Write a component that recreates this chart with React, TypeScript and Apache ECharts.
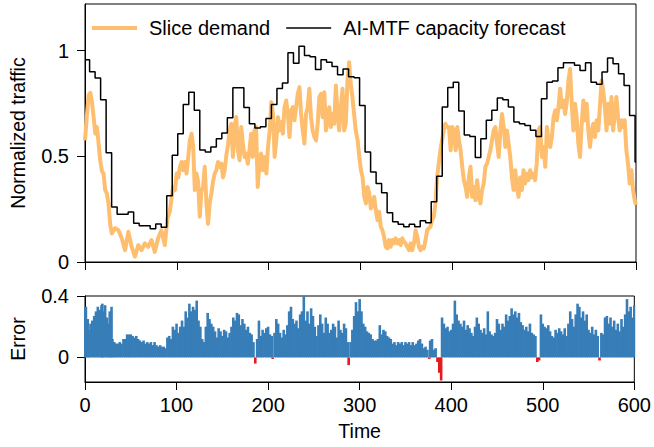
import React, { useEffect, useRef } from "react";
import * as echarts from "echarts";

// Capacity forecast: one value per 6-step block; block k spans [6k-1, 6k+5) clipped to [0, 600]
const BLOCK_LEN = 6;
const CAPACITY = [
  0.956, 0.9, 0.87, 0.767, 0.517, 0.26, 0.226, 0.226, 0.236, 0.183,
  0.171, 0.171, 0.157, 0.18, 0.164, 0.313, 0.505, 0.607, 0.745, 0.803,
  0.717, 0.53, 0.52, 0.544, 0.583, 0.61, 0.682, 0.824, 0.824, 0.73,
  0.654, 0.634, 0.64, 0.678, 0.745, 0.82, 0.846, 0.99, 0.94, 1.02,
  0.976, 0.97, 0.91, 0.956, 0.945, 0.925, 0.885, 0.913, 0.876, 0.871,
  0.74, 0.52, 0.426, 0.371, 0.327, 0.233, 0.19, 0.179, 0.167, 0.179,
  0.167, 0.195, 0.186, 0.285, 0.406, 0.733, 0.825, 0.85, 0.714, 0.6,
  0.594, 0.494, 0.583, 0.67, 0.717, 0.775, 0.767, 0.733, 0.662, 0.654,
  0.646, 0.623, 0.594, 0.772, 0.85, 0.856, 0.918, 0.942, 0.942, 0.93,
  0.906, 0.942, 0.85, 0.84, 0.898, 0.965, 0.937, 0.89, 0.835, 0.693,
  0.473,
];

// Slice demand: [time, normalized traffic]
const DEMAND: [number, number][] = [
  [0, 0.575], [2.2, 0.7], [4, 0.79], [5.8, 0.8], [7.6, 0.756], [9.4, 0.685], [11.2, 0.607], [13, 0.638],
  [14.8, 0.56], [16.6, 0.48], [18.4, 0.43], [20.2, 0.418], [22, 0.34], [23.8, 0.324], [25.6, 0.276],
  [27.4, 0.18], [29.2, 0.135], [32.8, 0.16], [36.4, 0.15], [40, 0.112], [43.6, 0.056], [47.2, 0.143],
  [50.8, 0.072], [54.4, 0.025], [58, 0.08], [61.6, 0.056], [65.2, 0.088], [68.8, 0.072], [72.4, 0.104],
  [76, 0.048], [79.6, 0.112], [83.2, 0.15], [86.9, 0.08], [89.7, 0.206], [92.3, 0.237], [95.9, 0.355],
  [98, 0.34], [99.8, 0.418], [101.6, 0.4], [103.4, 0.45], [105.2, 0.473], [107, 0.434], [108.8, 0.473],
  [110.6, 0.418], [112.4, 0.497], [114.2, 0.575], [116, 0.607], [117.8, 0.544], [119.6, 0.34],
  [121.4, 0.418], [123.2, 0.38], [125, 0.214], [126.8, 0.34], [128.6, 0.355], [130.4, 0.45],
  [132.2, 0.277], [134, 0.18], [135.8, 0.277], [137.6, 0.324], [139.4, 0.38], [141.2, 0.418],
  [143, 0.434], [144.8, 0.473], [146.6, 0.45], [148.5, 0.465], [150.3, 0.4], [152.1, 0.434],
  [153.9, 0.505], [155.7, 0.552], [157.5, 0.622], [159.3, 0.654], [161.1, 0.497], [162.9, 0.638],
  [164.7, 0.685], [166.5, 0.528], [168.3, 0.481], [170.1, 0.638], [171.9, 0.56], [173.7, 0.497],
  [175.5, 0.513], [177.3, 0.465], [179.1, 0.528], [180.9, 0.607], [182.7, 0.497], [184.5, 0.622],
  [186.3, 0.638], [188.1, 0.355], [189.9, 0.465], [191.7, 0.513], [193.5, 0.434], [195.3, 0.497],
  [197.5, 0.418], [199.3, 0.544], [201.1, 0.622], [202.9, 0.756], [204.7, 0.7], [206.5, 0.497],
  [208.3, 0.575], [210.1, 0.685], [211.9, 0.622], [213.7, 0.662], [215.5, 0.607], [217.3, 0.732],
  [219.1, 0.764], [220.9, 0.7], [222.7, 0.591], [224.5, 0.717], [226.3, 0.732], [228.1, 0.67],
  [229.9, 0.732], [231.7, 0.795], [233.5, 0.827], [235.3, 0.7], [237.1, 0.622], [238.9, 0.56],
  [240.7, 0.7], [242.5, 0.732], [244.3, 0.819], [246.1, 0.685], [247.9, 0.622], [249.8, 0.591],
  [251.6, 0.575], [253.4, 0.654], [255.2, 0.78], [257, 0.795], [258.8, 0.685], [260.6, 0.803],
  [262.4, 0.622], [264.2, 0.67], [266, 0.732], [267.8, 0.638], [269.6, 0.7], [271.4, 0.654],
  [273.2, 0.835], [275, 0.7], [276.8, 0.622], [278.6, 0.732], [280.4, 0.819], [282.2, 0.622],
  [284, 0.654], [285.8, 0.858], [287.6, 0.945], [289.4, 0.843], [291.2, 0.78], [293, 0.7],
  [294.8, 0.622], [296.9, 0.575], [298.7, 0.497], [300.5, 0.434], [302.3, 0.4], [304.1, 0.308],
  [305.9, 0.277], [307.7, 0.355], [309.5, 0.324], [311.3, 0.253], [313.1, 0.277], [314.9, 0.308],
  [316.7, 0.245], [318.5, 0.198], [320.3, 0.237], [322.1, 0.167], [323.9, 0.15], [325.6, 0.12],
  [327.4, 0.072], [329.2, 0.064], [331, 0.104], [332.8, 0.072], [334.6, 0.104], [336.4, 0.088],
  [338.3, 0.112], [340, 0.088], [341.9, 0.104], [343.7, 0.08], [345.5, 0.112], [347.3, 0.096],
  [349.1, 0.088], [350.9, 0.072], [352.8, 0.056], [354.5, 0.088], [356.4, 0.056], [358.2, 0.088],
  [360, 0.15], [361.8, 0.12], [363.6, 0.072], [365.4, 0.056], [367.2, 0.072], [369, 0.064],
  [370.8, 0.104], [372.6, 0.15], [374.4, 0.16], [376.2, 0.167], [378, 0.198], [379.8, 0.214],
  [381.6, 0.277], [383.4, 0.4], [385.2, 0.465], [387, 0.528], [388.8, 0.575], [390.6, 0.622],
  [392.4, 0.654], [394.2, 0.638], [396.4, 0.638], [398.2, 0.528], [400, 0.638], [401.8, 0.622],
  [403.6, 0.528], [405.4, 0.638], [407.2, 0.575], [409, 0.528], [410.8, 0.45], [412.6, 0.387],
  [414.4, 0.355], [416.2, 0.308], [418, 0.4], [419.8, 0.45], [421.6, 0.308], [423.4, 0.355],
  [425.2, 0.292], [427, 0.387], [428.8, 0.308], [430.6, 0.277], [432.4, 0.34], [434.2, 0.371],
  [436, 0.45], [437.8, 0.465], [439.6, 0.497], [441.4, 0.528], [443.2, 0.575], [445, 0.622],
  [446.9, 0.638], [448.7, 0.56], [450.5, 0.497], [452.3, 0.622], [454.1, 0.7], [455.9, 0.638],
  [457.7, 0.544], [459.5, 0.622], [461.3, 0.56], [463.1, 0.497], [464.9, 0.4], [466.7, 0.34],
  [468.5, 0.434], [470.3, 0.355], [472.1, 0.308], [473.9, 0.4], [475.7, 0.34], [477.5, 0.434],
  [479.3, 0.371], [481.1, 0.418], [482.9, 0.387], [484.7, 0.434], [486.5, 0.4], [488.3, 0.418],
  [490.1, 0.387], [491.9, 0.465], [493.7, 0.622], [495.5, 0.638], [497.6, 0.497], [499.4, 0.544],
  [501.2, 0.45], [503, 0.638], [504.8, 0.575], [506.6, 0.544], [508.4, 0.591], [510.2, 0.685],
  [512, 0.717], [513.8, 0.67], [515.6, 0.732], [517.4, 0.819], [519.2, 0.732], [521, 0.764],
  [522.8, 0.7], [524.6, 0.756], [526.4, 0.858], [528.2, 0.913], [530, 0.748], [531.8, 0.622],
  [533.6, 0.748], [535.4, 0.685], [537.2, 0.56], [539, 0.497], [540.9, 0.654], [542.7, 0.764],
  [544.5, 0.67], [546.3, 0.748], [548.1, 0.622], [549.9, 0.544], [551.7, 0.622], [553.5, 0.654],
  [555.3, 0.591], [557.1, 0.67], [558.9, 0.622], [560.7, 0.732], [562.5, 0.858], [564.3, 0.811],
  [566.1, 0.732], [567.9, 0.622], [569.7, 0.748], [571.5, 0.654], [573.3, 0.78], [575.1, 0.622],
  [576.9, 0.7], [578.7, 0.78], [580.5, 0.685], [582.3, 0.622], [584.1, 0.67], [585.9, 0.638],
  [587.7, 0.67], [589.5, 0.528], [591.3, 0.465], [593.1, 0.371], [595, 0.434], [596.8, 0.34],
  [598.6, 0.292], [600, 0.27],
];

// Error (capacity forecast minus demand): [time, error]
const ERROR: [number, number][] = [
  [0, 0.32], [1, 0.33], [3, 0.25], [4, 0.18], [6, 0.22], [8, 0.24], [10, 0.27], [12, 0.3], [14, 0.33],
  [16, 0.31], [18, 0.34], [19, 0.35], [20, 0.3], [22, 0.34], [24, 0.26], [26, 0.22], [27, 0.3], [29, 0.33],
  [30, 0.12], [32, 0.1], [34, 0.09], [36, 0.09], [38, 0.1], [40, 0.09], [42, 0.12], [44, 0.12], [46, 0.15],
  [48, 0.15], [50, 0.15], [52, 0.14], [54, 0.13], [56, 0.14], [58, 0.12], [60, 0.11], [62, 0.1], [64, 0.11],
  [66, 0.09], [68, 0.1], [70, 0.09], [72, 0.1], [74, 0.08], [76, 0.1], [78, 0.08], [80, 0.07], [82, 0.08],
  [84, 0.07], [86, 0.07], [88, 0.06], [90, 0.13], [92, 0.14], [94, 0.12], [96, 0.2], [98, 0.18], [100, 0.22],
  [102, 0.16], [104, 0.2], [106, 0.24], [108, 0.2], [110, 0.3], [112, 0.26], [114, 0.35], [116, 0.3],
  [118, 0.33], [120, 0.31], [122, 0.37], [124, 0.24], [126, 0.2], [128, 0.12], [130, 0.1], [132, 0.2],
  [134, 0.29], [136, 0.25], [138, 0.22], [140, 0.2], [142, 0.17], [144, 0.13], [146, 0.19], [148, 0.17],
  [150, 0.14], [152, 0.18], [154, 0.17], [156, 0.13], [158, 0.16], [160, 0.2], [162, 0.26], [164, 0.24],
  [166, 0.29], [168, 0.28], [170, 0.21], [172, 0.25], [174, 0.22], [176, 0.18], [178, 0.2], [180, 0.16],
  [182, 0.15], [184, 0.1], [186, -0.04], [188, 0.12], [190, 0.24], [192, 0.14], [194, 0.18], [196, 0.16],
  [198, 0.19], [200, 0.2], [202, 0.15], [204, 0.14], [205, -0.01], [207, 0.16], [209, 0.25], [211, 0.22],
  [213, 0.16], [215, 0.13], [217, 0.18], [219, 0.15], [221, 0.21], [223, 0.3], [225, 0.33], [227, 0.25],
  [229, 0.22], [231, 0.24], [233, 0.19], [235, 0.28], [237, 0.3], [239, 0.4], [241, 0.24], [243, 0.3],
  [245, 0.22], [247, 0.32], [249, 0.27], [251, 0.2], [253, 0.14], [255, 0.21], [257, 0.28], [259, 0.22],
  [261, 0.16], [263, 0.26], [265, 0.22], [267, 0.16], [269, 0.18], [271, 0.22], [273, 0.2], [275, 0.13],
  [277, 0.24], [279, 0.18], [281, 0.16], [283, 0.22], [285, 0.19], [287, 0.1], [288, -0.05], [290, 0.1],
  [292, 0.18], [294, 0.27], [296, 0.36], [298, 0.3], [300, 0.38], [302, 0.3], [304, 0.22], [306, 0.2],
  [308, 0.17], [310, 0.16], [312, 0.15], [314, 0.12], [316, 0.11], [318, 0.11], [320, 0.12], [322, 0.21],
  [324, 0.15], [326, 0.18], [328, 0.17], [330, 0.14], [332, 0.13], [334, 0.12], [336, 0.09], [338, 0.1],
  [340, 0.08], [342, 0.1], [344, 0.09], [346, 0.1], [348, 0.08], [350, 0.1], [352, 0.09], [354, 0.1],
  [356, 0.08], [358, 0.1], [360, 0.08], [362, 0.09], [364, 0.11], [366, 0.12], [368, 0.09], [370, 0.06],
  [372, 0.07], [374, 0.05], [376, -0.01], [377, 0.11], [379, 0.12], [381, 0.05], [383, 0.06], [385, -0.03],
  [387, -0.1], [389, -0.15], [390, 0.26], [392, 0.22], [394, 0.19], [396, 0.2], [398, 0.17], [400, 0.18],
  [402, 0.22], [404, 0.37], [406, 0.28], [408, 0.24], [410, 0.22], [412, 0.2], [414, 0.24], [416, 0.18],
  [418, 0.21], [420, 0.19], [422, 0.16], [424, 0.14], [426, 0.2], [428, 0.26], [430, 0.22], [432, 0.18],
  [434, 0.16], [436, 0.19], [438, 0.15], [440, 0.3], [442, 0.17], [444, 0.15], [446, 0.14], [448, 0.16],
  [450, 0.25], [452, 0.22], [454, 0.18], [456, 0.22], [458, 0.2], [460, 0.28], [462, 0.24], [464, 0.27],
  [466, 0.32], [468, 0.28], [470, 0.3], [472, 0.26], [474, 0.29], [476, 0.23], [478, 0.21], [480, 0.18],
  [482, 0.2], [484, 0.17], [486, 0.22], [488, 0.16], [490, 0.15], [492, 0.14], [494, -0.03], [496, -0.02],
  [498, 0.28], [500, 0.22], [502, 0.2], [504, 0.19], [506, 0.21], [508, 0.17], [510, 0.14], [512, 0.13],
  [514, 0.18], [516, 0.16], [518, 0.19], [520, 0.17], [522, 0.15], [524, 0.19], [526, 0.14], [528, 0.22],
  [530, 0.3], [532, 0.25], [534, 0.2], [536, 0.28], [538, 0.35], [540, 0.33], [542, 0.26], [544, 0.3],
  [546, 0.24], [548, 0.28], [550, 0.18], [552, 0.16], [554, 0.2], [556, 0.15], [558, 0.18], [560, 0.14],
  [562, -0.02], [564, 0.16], [566, 0.15], [568, 0.26], [570, 0.27], [572, 0.22], [574, 0.26], [576, 0.2],
  [578, 0.24], [580, 0.18], [582, 0.22], [584, 0.17], [586, 0.25], [588, 0.2], [590, 0.28], [592, 0.38],
  [594, 0.3], [596, 0.33], [598, 0.26], [600, 0.34],
];

const X_TICKS = [0, 100, 200, 300, 400, 500, 600];
const TOP_Y_TICKS = [0, 0.5, 1];
const BOTTOM_Y_TICKS = [0, 0.4];
const SERIES_NAMES = ["Slice demand", "AI-MTF capacity forecast"];

const FONT = "'Liberation Sans', Arial, Helvetica, sans-serif";
const ORANGE = "#fdbf6f";
const BLUE = "#377eb8";
const RED = "#e41a1c";
const DEMAND_WIDTH = 4;
const CAPACITY_WIDTH = 1.5;

function capacitySteps(): [number, number][] {
  const pts: [number, number][] = [];
  CAPACITY.forEach((v, k) => {
    const start = Math.max(0, k * BLOCK_LEN - 1);
    pts.push([start, v]);
  });
  pts.push([X_TICKS[X_TICKS.length - 1], CAPACITY[CAPACITY.length - 1]]);
  return pts;
}

export default function App() {
  const ref = useRef<HTMLDivElement>(null);
  useEffect(() => {
    document.body.style.margin = "0";
    const chart = echarts.init(ref.current!, undefined, { renderer: "svg" });
    const axisLine = { show: true, onZero: false, lineStyle: { color: "#000", width: 1 } };
    const tickStyle = { color: "#000", width: 1 };
    const xMin = X_TICKS[0];
    const xMax = X_TICKS[X_TICKS.length - 1];
    const xInterval = X_TICKS[1] - X_TICKS[0];
    chart.setOption({
      animation: false,
      textStyle: { fontFamily: FONT },
      grid: [
        { left: 81, right: 18, top: 4, height: 258, show: true, borderColor: "#000", borderWidth: 1, backgroundColor: "transparent" },
        { left: 81, right: 18, top: 296, height: 86, show: true, borderColor: "#000", borderWidth: 1, backgroundColor: "transparent" },
      ],
      legend: {
        data: [
          { name: SERIES_NAMES[0], icon: `path://M0,0H45V${DEMAND_WIDTH}H0Z`, itemStyle: { color: ORANGE } },
          { name: SERIES_NAMES[1], icon: `path://M0,0H45V${CAPACITY_WIDTH}H0Z`, itemStyle: { color: "#000" } },
        ],
        symbolKeepAspect: true,
        left: 87,
        top: 13,
        itemWidth: 45,
        itemHeight: 14,
        itemGap: 16,
        textStyle: { fontSize: 20, color: "#000", fontFamily: FONT, padding: [0, 0, 0, 7] },
      },
      xAxis: [
        {
          gridIndex: 0, type: "value", min: xMin, max: xMax, interval: xInterval,
          axisLine, axisTick: { show: true, inside: false, length: 8, lineStyle: tickStyle },
          axisLabel: { show: false }, splitLine: { show: false },
        },
        {
          gridIndex: 1, type: "value", min: xMin, max: xMax, interval: xInterval,
          axisLine, axisTick: { show: true, inside: false, length: 8, lineStyle: tickStyle },
          axisLabel: { show: true, color: "#000", fontSize: 20, margin: 13, fontFamily: FONT },
          splitLine: { show: false },
          name: "Time", nameLocation: "middle", nameGap: 39,
          nameTextStyle: { fontSize: 19.5, color: "#000", fontFamily: FONT },
        },
      ],
      yAxis: [
        {
          gridIndex: 0, type: "value", min: 0, max: 1.22,
          axisLine,
          axisTick: { show: true, inside: false, length: 8, lineStyle: tickStyle, customValues: TOP_Y_TICKS },
          axisLabel: { show: true, color: "#000", fontSize: 20, margin: 16, fontFamily: FONT, customValues: TOP_Y_TICKS },
          splitLine: { show: false },
          name: "Normalized traffic", nameLocation: "middle", nameGap: 57,
          nameTextStyle: { fontSize: 19.5, color: "#000", fontFamily: FONT },
        },
        {
          gridIndex: 1, type: "value", min: -0.16, max: 0.4,
          axisLine,
          axisTick: { show: true, inside: false, length: 8, lineStyle: tickStyle, customValues: BOTTOM_Y_TICKS },
          axisLabel: { show: true, color: "#000", fontSize: 20, margin: 16, fontFamily: FONT, customValues: BOTTOM_Y_TICKS },
          splitLine: { show: false },
          name: "Error", nameLocation: "middle", nameGap: 57,
          nameTextStyle: { fontSize: 19.5, color: "#000", fontFamily: FONT },
        },
      ],
      series: [
        {
          name: SERIES_NAMES[0], type: "line", xAxisIndex: 0, yAxisIndex: 0,
          data: DEMAND, symbol: "none", z: 2,
          lineStyle: { color: ORANGE, width: DEMAND_WIDTH, join: "round" },
          itemStyle: { color: ORANGE },
        },
        {
          name: SERIES_NAMES[1], type: "line", xAxisIndex: 0, yAxisIndex: 0,
          data: capacitySteps(), step: "end", symbol: "none", z: 3,
          lineStyle: { color: "#000", width: CAPACITY_WIDTH },
          itemStyle: { color: "#000" },
        },
        {
          name: "Error", type: "bar", xAxisIndex: 1, yAxisIndex: 1,
          data: ERROR, barWidth: 2.6,
          itemStyle: { color: (p: any) => (p.value[1] < 0 ? RED : BLUE) },
        },
      ],
    });
    return () => chart.dispose();
  }, []);
  return <div ref={ref} style={{ width: 654, height: 447 }} />;
}
